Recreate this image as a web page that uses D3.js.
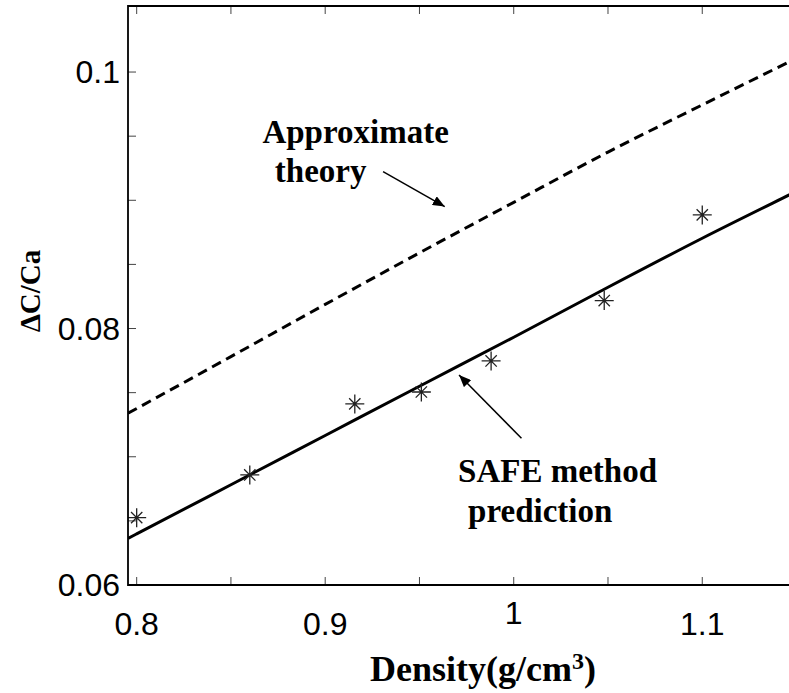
<!DOCTYPE html>
<html>
<head>
<meta charset="utf-8">
<script src="https://cdn.jsdelivr.net/npm/d3@7"></script>
<style>
  html, body { margin: 0; padding: 0; background: #fff; }
  svg { display: block; }
  .tick-label { font-family: "Liberation Sans", Arial, sans-serif; font-size: 32px; fill: #000; }
  .axis-title, .note { font-family: "Liberation Serif", "Times New Roman", serif; font-weight: bold; fill: #000; }
  .note { font-size: 33px; }
</style>
</head>
<body>
<svg id="chart" width="789" height="693"></svg>
<script>
// measured points (density, dC/Ca)
const densities = [0.8, 0.86, 0.9157, 0.951, 0.988, 1.048, 1.1];
const measured = [0.06525, 0.06858, 0.07412, 0.07505, 0.07747, 0.08218, 0.08886];

// SAFE method prediction curve
const safeX = [0.7954, 0.8, 0.85, 0.9, 0.95, 1.0, 1.05, 1.1, 1.15, 1.172];
const safeY = [0.06364, 0.06399, 0.06782, 0.07166, 0.0755, 0.07932, 0.08322, 0.08704, 0.0907, 0.0923];

// approximate theory curve
const approxX = [0.7954, 0.85, 0.9, 0.95, 1.0, 1.05, 1.1, 1.15, 1.172];
const approxY = [0.07339, 0.07781, 0.08188, 0.0859, 0.08984, 0.09376, 0.09744, 0.10108, 0.1027];

// axis ticks
const xTicks = [0.8, 0.85, 0.9, 0.95, 1.0, 1.05, 1.1, 1.15];
const xTickLabels = ['0.8', '', '0.9', '', '1', '', '1.1', ''];
const yTicks = [0.06, 0.065, 0.07, 0.075, 0.08, 0.085, 0.09, 0.095, 0.1];
const yTickLabels = ['0.06', '', '', '', '0.08', '', '', '', '0.1'];

// annotations: text lines with start x / baseline y, arrows from -> to
const notes = [
  {lines: ['Approximate', 'theory'], x: [0.8667, 0.8733], y: [0.09444, 0.09145]},
  {lines: ['SAFE method', 'prediction'], x: [0.9705, 0.9758], y: [0.06805, 0.06494]},
];
const arrows = [
  {from: [0.9307, 0.09223], to: [0.9634, 0.08951]},
  {from: [1.0041, 0.07144], to: [0.9710, 0.07637]},
];

const margin = {left: 128, top: 6};
const plotBottom = 585;
const plotRight = 838; // axes box runs past the page edge
const svg = d3.select('#chart');

const x = d3.scaleLinear().domain([0.7954, 1.172]).range([margin.left, plotRight]);
const y = d3.scaleLinear().domain([0.06, 0.10515]).range([plotBottom, margin.top]);

const defs = svg.append('defs');
defs.append('clipPath').attr('id', 'plot-clip')
  .append('rect')
  .attr('x', margin.left).attr('y', margin.top)
  .attr('width', plotRight - margin.left).attr('height', plotBottom - margin.top);
defs.append('marker')
  .attr('id', 'head')
  .attr('viewBox', '0 0 12 10')
  .attr('refX', 12).attr('refY', 5)
  .attr('markerWidth', 12).attr('markerHeight', 10)
  .attr('markerUnits', 'userSpaceOnUse')
  .attr('orient', 'auto')
  .append('path')
  .attr('d', 'M0,0 L12,5 L0,10 Z')
  .attr('fill', '#000');

// ticks (inside, on bottom, top and left)
const tickG = svg.append('g').attr('stroke', '#444').attr('stroke-width', 1);
tickG.selectAll('.xt-b').data(xTicks).join('line')
  .attr('x1', (d) => x(d)).attr('x2', (d) => x(d))
  .attr('y1', plotBottom).attr('y2', plotBottom - 8);
tickG.selectAll('.xt-t').data(xTicks).join('line')
  .attr('x1', (d) => x(d)).attr('x2', (d) => x(d))
  .attr('y1', margin.top).attr('y2', margin.top + 8);
tickG.selectAll('.yt').data(yTicks).join('line')
  .attr('x1', margin.left).attr('x2', margin.left + 8)
  .attr('y1', (d) => y(d)).attr('y2', (d) => y(d));

// curves
const line = d3.line().curve(d3.curveMonotoneX).x((d) => x(d[0])).y((d) => y(d[1]));
const plot = svg.append('g').attr('clip-path', 'url(#plot-clip)');
plot.append('path')
  .datum(d3.zip(approxX, approxY))
  .attr('d', line)
  .attr('fill', 'none').attr('stroke', '#000')
  .attr('stroke-width', 3).attr('stroke-dasharray', '10,6');
plot.append('path')
  .datum(d3.zip(safeX, safeY))
  .attr('d', line)
  .attr('fill', 'none').attr('stroke', '#000')
  .attr('stroke-width', 3);

// asterisk markers
const star = d3.range(4).map((i) => {
  const a = i * Math.PI / 4;
  const r = i % 2 ? 8 : 9.5;
  return `M${-r * Math.cos(a)},${-r * Math.sin(a)}L${r * Math.cos(a)},${r * Math.sin(a)}`;
}).join('');
plot.selectAll('.pt').data(d3.zip(densities, measured)).join('path')
  .attr('class', 'pt')
  .attr('transform', (d) => `translate(${x(d[0])},${y(d[1])})`)
  .attr('d', star)
  .attr('stroke', '#222').attr('stroke-width', 1.3).attr('fill', 'none');

// axes box
svg.append('path')
  .attr('d', `M${plotRight},${margin.top}H${margin.left}V${plotBottom}H${plotRight}`)
  .attr('fill', 'none').attr('stroke', '#000').attr('stroke-width', 1.8);

// tick labels
svg.selectAll('.xl').data(xTicks.filter((d, i) => xTickLabels[i])).join('text')
  .attr('class', 'tick-label')
  .attr('x', (d) => x(d))
  .attr('y', (d) => (Math.abs(d - 1) < 1e-9 ? 624 : 635))
  .attr('text-anchor', 'middle')
  .text((d) => xTickLabels[xTicks.indexOf(d)]);
svg.selectAll('.yl').data(yTicks.filter((d, i) => yTickLabels[i])).join('text')
  .attr('class', 'tick-label')
  .attr('x', 120)
  .attr('y', (d) => y(d) + 11)
  .attr('text-anchor', 'end')
  .text((d) => yTickLabels[yTicks.indexOf(d)]);

// axis titles
const xTitle = svg.append('text')
  .attr('class', 'axis-title')
  .attr('x', 483).attr('y', 681)
  .attr('text-anchor', 'middle')
  .style('font-size', '36px');
xTitle.append('tspan').text('Density(g/cm');
xTitle.append('tspan').style('font-size', '24px').attr('dy', -12).text('3');
xTitle.append('tspan').attr('dy', 12).text(')');

svg.append('text')
  .attr('class', 'axis-title')
  .attr('transform', 'translate(40,291) rotate(-90)')
  .attr('text-anchor', 'middle')
  .style('font-size', '29px')
  .text('\u0394C/Ca');

// annotations
notes.forEach((n) => {
  n.lines.forEach((t, i) => {
    svg.append('text')
      .attr('class', 'note')
      .attr('x', x(n.x[i])).attr('y', y(n.y[i]))
      .text(t);
  });
});
svg.selectAll('.arrow').data(arrows).join('line')
  .attr('class', 'arrow')
  .attr('x1', (d) => x(d.from[0])).attr('y1', (d) => y(d.from[1]))
  .attr('x2', (d) => x(d.to[0])).attr('y2', (d) => y(d.to[1]))
  .attr('stroke', '#000').attr('stroke-width', 1.5)
  .attr('marker-end', 'url(#head)');
</script>
</body>
</html>
